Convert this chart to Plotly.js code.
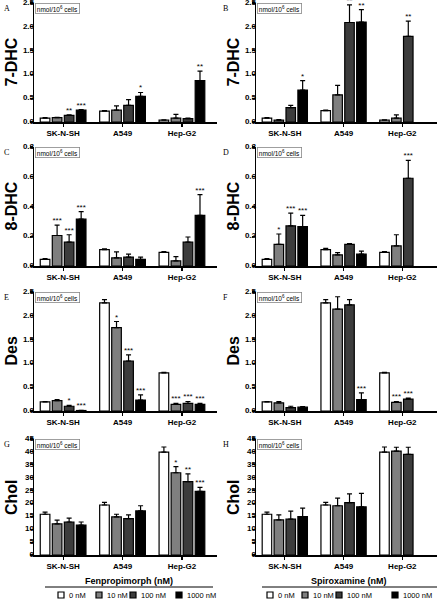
<!DOCTYPE html>
<html><head><meta charset="utf-8">
<script src="https://cdn.plot.ly/plotly-3.0.1.min.js"></script>
<style>html,body{margin:0;padding:0;background:#fff}#chart{width:439px;height:601px}</style>
</head><body><div id="chart"></div>
<script>
const cellLines = ['SK-N-SH','A549','Hep-G2'];
const doses = ['0 nM','10 nM','100 nM','1000 nM'];
const doseColors = ['#ffffff','#7f7f7f','#3c3c3c','#000000'];
const treatments = ['Fenpropimorph (nM)','Spiroxamine (nM)'];

// rows = cell lines, columns = doses (0, 10, 100, 1000 nM)
const dhc7FenMean = [[0.08,0.09,0.14,0.25],[0.23,0.25,0.35,0.54],[0.04,0.08,0.07,0.87]];
const dhc7FenErr  = [[0.01,0.01,0.01,0.01],[0.01,0.09,0.12,0.08],[0.005,0.08,0.01,0.20]];
const dhc7FenSig  = [['','','**','***'],['','','','*'],['','','','**']];

const dhc7SpiMean = [[0.08,0.04,0.30,0.67],[0.24,0.57,2.09,2.10],[0.04,0.08,1.80,null]];
const dhc7SpiErr  = [[0.01,0.01,0.05,0.20],[0.01,0.20,0.37,0.26],[0.005,0.07,0.32,null]];
const dhc7SpiSig  = [['','','','*'],['','','**','**'],['','','**','']];

const dhc8FenMean = [[0.045,0.205,0.16,0.315],[0.11,0.055,0.06,0.045],[0.092,0.035,0.16,0.34]];
const dhc8FenErr  = [[0.005,0.07,0.05,0.05],[0.005,0.04,0.02,0.015],[0.005,0.028,0.035,0.14]];
const dhc8FenSig  = [['','***','***','***'],['','','',''],['','','','***']];

const dhc8SpiMean = [[0.045,0.145,0.27,0.265],[0.11,0.075,0.145,0.08],[0.092,0.135,0.59,null]];
const dhc8SpiErr  = [[0.005,0.07,0.085,0.075],[0.008,0.015,0.005,0.02],[0.005,0.075,0.12,null]];
const dhc8SpiSig  = [['','*','***','***'],['','','',''],['','','***','']];

const desFenMean = [[0.19,0.22,0.10,0.01],[2.27,1.75,1.05,0.23],[0.80,0.14,0.16,0.14]];
const desFenErr  = [[0.01,0.02,0.02,0.005],[0.07,0.13,0.13,0.11],[0.01,0.02,0.04,0.02]];
const desFenSig  = [['','','*','***'],['','*','***','***'],['','***','***','***']];

const desSpiMean = [[0.19,0.17,0.07,0.08],[2.27,2.14,2.23,0.24],[0.80,0.18,0.25,null]];
const desSpiErr  = [[0.01,0.03,0.03,0.01],[0.07,0.26,0.11,0.14],[0.01,0.02,0.02,null]];
const desSpiSig  = [['','','',''],['','','','***'],['','***','***','']];

const cholFenMean = [[15.8,12.1,12.8,11.6],[19.4,14.8,14.1,17.1],[39.9,31.9,28.5,24.7]];
const cholFenErr  = [[0.8,1.4,1.5,1.2],[1.0,1.0,1.5,2.0],[2.0,2.4,3.0,1.5]];
const cholFenSig  = [['','','',''],['','','',''],['','*','**','***']];

const cholSpiMean = [[15.8,13.6,13.9,14.9],[19.4,19.1,20.3,18.7],[39.9,40.3,39.0,null]];
const cholSpiErr  = [[0.8,2.0,3.1,3.3],[1.0,3.0,3.4,5.2],[2.0,1.5,2.8,null]];
const cholSpiSig  = [['','','',''],['','','',''],['','','','']];

const ticksFrac25 = [0, 0.5, 1.0, 1.5, 2.0, 2.5];
const ticksFrac08 = [0, 0.2, 0.4, 0.6, 0.8];
const ticksChol = [0, 5, 10, 15, 20, 25, 30, 35, 40, 45];

const panels = [
  {letter:'A', title:'7-DHC', mean:dhc7FenMean, err:dhc7FenErr, sig:dhc7FenSig, ticks:ticksFrac25, dec:1},
  {letter:'B', title:'7-DHC', mean:dhc7SpiMean, err:dhc7SpiErr, sig:dhc7SpiSig, ticks:ticksFrac25, dec:1},
  {letter:'C', title:'8-DHC', mean:dhc8FenMean, err:dhc8FenErr, sig:dhc8FenSig, ticks:ticksFrac08, dec:1},
  {letter:'D', title:'8-DHC', mean:dhc8SpiMean, err:dhc8SpiErr, sig:dhc8SpiSig, ticks:ticksFrac08, dec:1},
  {letter:'E', title:'Des', mean:desFenMean, err:desFenErr, sig:desFenSig, ticks:ticksFrac25, dec:1},
  {letter:'F', title:'Des', mean:desSpiMean, err:desSpiErr, sig:desSpiSig, ticks:ticksFrac25, dec:1},
  {letter:'G', title:'Chol', mean:cholFenMean, err:cholFenErr, sig:cholFenSig, ticks:ticksChol, dec:0},
  {letter:'H', title:'Chol', mean:cholSpiMean, err:cholSpiErr, sig:cholSpiSig, ticks:ticksChol, dec:0}
];

const W = 439, H = 601;
const px = v => v / W;
const py = v => 1 - v / H;
const colPx = [[34,217],[256,437]];
const rowPx = [[3,122],[147,266],[292,411],[439,555]];
const xRange = [-0.49, 2.59];
const bargap = 0.19, bargroupgap = 0.2;
const slot = (1 - bargap) / doses.length;
const FONT = 'Liberation Sans, Arial, sans-serif';

const data = [];
const layout = {
  width: W, height: H,
  margin: {l:0, r:0, t:0, b:0},
  paper_bgcolor: '#fff', plot_bgcolor: 'rgba(0,0,0,0)',
  barmode: 'group', bargap: bargap, bargroupgap: bargroupgap,
  showlegend: false,
  font: {family: FONT, color: '#000'},
  annotations: [], shapes: []
};

panels.forEach((p, k) => {
  const col = k % 2, row = Math.floor(k / 2);
  const xa = k === 0 ? 'x' : 'x' + (k + 1);
  const ya = k === 0 ? 'y' : 'y' + (k + 1);
  const xKey = k === 0 ? 'xaxis' : 'xaxis' + (k + 1);
  const yKey = k === 0 ? 'yaxis' : 'yaxis' + (k + 1);
  const ymax = p.ticks[p.ticks.length - 1];
  layout[xKey] = {
    domain: [px(colPx[col][0]), px(colPx[col][1])],
    anchor: ya, range: xRange,
    tickmode: 'array', tickvals: [0,1,2], ticktext: cellLines,
    showline: true, linecolor: '#000', linewidth: 1.5,
    ticks: 'outside', ticklen: 3, tickwidth: 1.2, tickcolor: '#000',
    showgrid: false, zeroline: false, fixedrange: true,
    tickfont: {family: FONT, size: 8, weight: 'bold', color: '#000'}
  };
  layout[yKey] = {
    domain: [py(rowPx[row][1]), py(rowPx[row][0])],
    anchor: xa, range: [0, ymax],
    tickmode: 'array', tickvals: p.ticks, showticklabels: false,
    showline: true, linecolor: '#000', linewidth: 1.5,
    ticks: 'outside', ticklen: 3, tickwidth: 1.2, tickcolor: '#000',
    showgrid: false, zeroline: false, fixedrange: true
  };
  doses.forEach((d, j) => {
    data.push({
      type: 'bar', name: d, xaxis: xa, yaxis: ya,
      x: [0,1,2], y: cellLines.map((c, i) => p.mean[i][j]),
      marker: {color: doseColors[j], line: {color: '#000', width: 1.2}},
      error_y: {type: 'data', symmetric: false,
        array: cellLines.map((c, i) => p.err[i][j]),
        arrayminus: cellLines.map(() => 0),
        color: '#000', thickness: 1.2, width: 2.5},
      showlegend: false, hoverinfo: 'skip'
    });
  });
  // y tick labels drawn as text on the axis' own scale, at the left edge of the x range
  data.push({
    type: 'scatter', mode: 'text', xaxis: xa, yaxis: ya,
    x: p.ticks.map(() => xRange[0]), y: p.ticks,
    text: p.ticks.map(v => v.toFixed(p.dec)), textposition: 'middle left',
    textfont: {family: FONT, size: 8, weight: 'bold', color: '#000'},
    cliponaxis: false, showlegend: false, hoverinfo: 'skip'
  });
  const sx = [], sy = [], st = [];
  cellLines.forEach((c, i) => doses.forEach((d, j) => {
    if (p.sig[i][j] && p.mean[i][j] !== null) {
      sx.push(i + (j - 1.5) * slot);
      sy.push(p.mean[i][j] + p.err[i][j]);
      st.push(p.sig[i][j]);
    }
  }));
  if (sx.length) data.push({
    type: 'scatter', mode: 'text', xaxis: xa, yaxis: ya,
    x: sx, y: sy, text: st, textposition: 'top center',
    textfont: {family: FONT, size: 8, color: '#000'},
    cliponaxis: false, showlegend: false, hoverinfo: 'skip'
  });
  layout.annotations.push({
    xref: 'paper', yref: 'paper', x: px(col === 0 ? 11 : 233),
    y: py((rowPx[row][0] + rowPx[row][1]) / 2),
    text: p.title, textangle: -90, showarrow: false,
    font: {family: FONT, size: 16, weight: 'bold', color: '#000'},
    xanchor: 'center', yanchor: 'middle'
  });
  layout.annotations.push({
    xref: 'paper', yref: 'paper', x: px(col === 0 ? 2 : 221),
    y: py(rowPx[row][0] - 1), text: p.letter, showarrow: false,
    font: {family: 'Liberation Serif, serif', size: 8, color: '#000'},
    xanchor: 'left', yanchor: 'top'
  });
  layout.annotations.push({
    xref: xa + ' domain', yref: ya + ' domain', x: 0.006, y: 1,
    text: 'nmol/10<sup>6</sup> cells', showarrow: false,
    font: {family: FONT, size: 6.5, color: '#000'},
    xanchor: 'left', yanchor: 'top',
    bordercolor: '#888', borderwidth: 0.8, borderpad: 1, bgcolor: '#fff'
  });
});

const legendCols = [
  {center: 129, line: [45, 213], sw: [58, 96, 130, 176]},
  {center: 349, line: [262, 437], sw: [267, 302, 336, 392]}
];
legendCols.forEach((c, ci) => {
  layout.annotations.push({
    xref: 'paper', yref: 'paper', x: px(c.center), y: py(581),
    text: treatments[ci], showarrow: false,
    font: {family: FONT, size: 9, weight: 'bold', color: '#000'},
    xanchor: 'center', yanchor: 'middle'
  });
  layout.shapes.push({
    type: 'line', xref: 'paper', yref: 'paper',
    x0: px(c.line[0]), x1: px(c.line[1]), y0: py(587), y1: py(587),
    line: {color: '#000', width: 1}
  });
  doses.forEach((d, j) => {
    const x = c.sw[j];
    layout.shapes.push({
      type: 'rect', xref: 'paper', yref: 'paper',
      x0: px(x), x1: px(x + 6), y0: py(598), y1: py(592),
      fillcolor: doseColors[j], line: {color: '#000', width: 1.2}
    });
    layout.annotations.push({
      xref: 'paper', yref: 'paper', x: px(x + 8.5), y: py(595),
      text: d, showarrow: false,
      font: {family: FONT, size: 7.5, color: '#000'},
      xanchor: 'left', yanchor: 'middle'
    });
  });
});

Plotly.newPlot('chart', data, layout, {staticPlot: true, displayModeBar: false});
</script>
</body></html>
